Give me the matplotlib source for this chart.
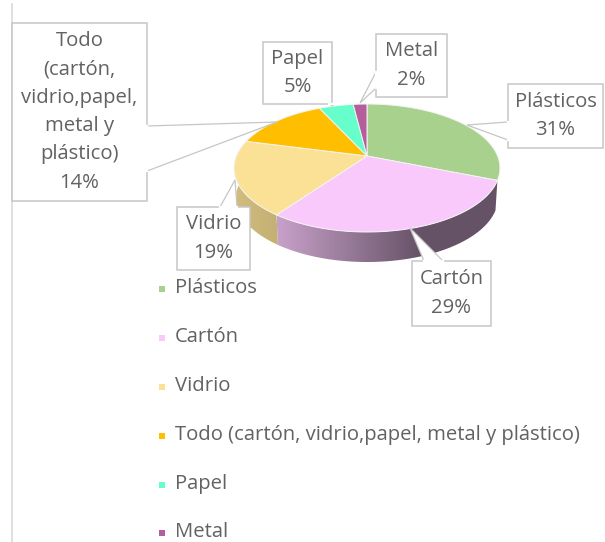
import numpy as np
import matplotlib
matplotlib.use('Agg')
import matplotlib.pyplot as plt
from matplotlib.colors import LinearSegmentedColormap
from matplotlib.patches import Polygon

plt.rcParams['font.family'] = ['Open Sans', 'DejaVu Sans']

categories = ['Plásticos', 'Cartón', 'Vidrio',
              'Todo (cartón, vidrio,papel, metal y plástico)', 'Papel', 'Metal']
callout_names = ['Plásticos', 'Cartón', 'Vidrio',
                 'Todo\n(cartón,\nvidrio,papel,\nmetal y\nplástico)', 'Papel', 'Metal']
values = [31, 29, 19, 14, 5, 2]
colors = ['#A9D18E', '#FAC9FC', '#FBE196', '#FFBF00', '#66FFCC', '#B45F9B']

TEXT = '#626262'
LINE = '#C6C6C6'

# pie geometry in pixels, tilted circle with a bit of perspective
CX, CY = 367, 156
A, B, K = 130.6, 61.75, 0.1875
DEPTH = 30


def project(theta):
    # theta runs clockwise from 12 o'clock
    u, v = np.sin(theta), np.cos(theta)
    w = 1 + K * v
    return CX + A * u / w, CY - B * v / w


def shade(hex_color, f):
    return tuple(np.array(matplotlib.colors.to_rgb(hex_color)) * f)


fig = plt.figure(figsize=(6.05, 5.42), dpi=100)
ax = fig.add_axes([0, 0, 1, 1])

# slice limits from the values
edges = np.cumsum([0] + values) / sum(values) * 2 * np.pi

# side wall of the two slices that show in front, gradient clipped to the wall shape
wall_stops = {1: [(0, 0.80), (0.65, 0.41), (1, 0.41)],
              2: [(0, 0.84), (1, 0.78)]}
for i, stops in wall_stops.items():
    th = np.linspace(edges[i], edges[i + 1], 150)
    th = th[th < 1.52 * np.pi]  # past this the wall is behind the top face
    x, y = project(th)
    xb = CX + (x - CX) * 0.985
    wall = Polygon(np.column_stack([np.r_[x, xb[::-1]], np.r_[y, (y + DEPTH)[::-1]]]),
                   closed=True, facecolor='none', edgecolor='none')
    ax.add_patch(wall)
    cmap = LinearSegmentedColormap.from_list(
        'wall', [(p, shade(colors[i], f)) for p, f in stops])
    im = ax.imshow(np.linspace(0, 1, 256).reshape(1, -1), cmap=cmap, aspect='auto',
                   extent=(min(x.min(), xb.min()), max(x.max(), xb.max()),
                           y.max() + DEPTH + 2, y.min() - 2), zorder=2)
    im.set_clip_path(wall)

ax.set_xlim(0, 605)
ax.set_ylim(542, 0)
ax.axis('off')

# top face
for i in range(len(values)):
    th = np.linspace(edges[i], edges[i + 1], 80)
    px, py = project(th)
    ax.add_patch(Polygon(np.column_stack([np.r_[CX, px], np.r_[CY, py]]), closed=True,
                         facecolor=colors[i], edgecolor='#F4F4F4', linewidth=0.7, zorder=3))

# left border of the chart frame
ax.plot([12, 12], [4, 542], color='#D9D9D9', lw=1.2, zorder=1)

# callouts: box (l, t, r, b) and pointer (foot1, tip, foot2)
boxes = [(508, 84, 603, 148), (412, 261, 491, 326), (177, 207, 250, 270),
         (12, 23, 147, 201), (263, 42, 332, 104), (376, 34, 447, 97)]
pointers = [((508, 122), (467, 125), (508, 140)),
            ((443, 261), (410, 228), (424, 261)),
            ((220, 207), (235, 180), (237, 207)),
            ((147, 126), (277, 122), (147, 171)),
            ((329, 104), (333, 106), (332, 104)),
            ((376, 72), (360, 103), (376, 88))]

for name, val, (l, t, r, b), ptr in zip(callout_names, values, boxes, pointers):
    ax.add_patch(Polygon([(l, t), (r, t), (r, b), (l, b)], closed=True, facecolor='white',
                         edgecolor=LINE, linewidth=1.1, zorder=4))
    # pointer wedge, white fill hides the box edge under it
    ax.add_patch(Polygon(ptr, closed=False, facecolor='white', edgecolor=LINE,
                         linewidth=0.9, zorder=5))
    ax.plot([ptr[0][0], ptr[2][0]], [ptr[0][1], ptr[2][1]], color='white', lw=1.6, zorder=5)
    ax.text((l + r) / 2, (t + b) / 2, f'{name}\n{val}%', ha='center', va='center',
            fontsize=14.6, color=TEXT, linespacing=1.55, zorder=6)

# legend, drawn by hand since the rows are spread out in the original
legend_y = [289, 338, 387, 436, 485, 533]
for name, c, y in zip(categories, colors, legend_y):
    ax.plot([162], [y], marker='s', ms=3.8, color=c, mew=0, zorder=4)
    ax.text(175, y - 1, name, ha='left', va='center', fontsize=14.6, color=TEXT, zorder=4)

fig.savefig('out.png', dpi=100)
